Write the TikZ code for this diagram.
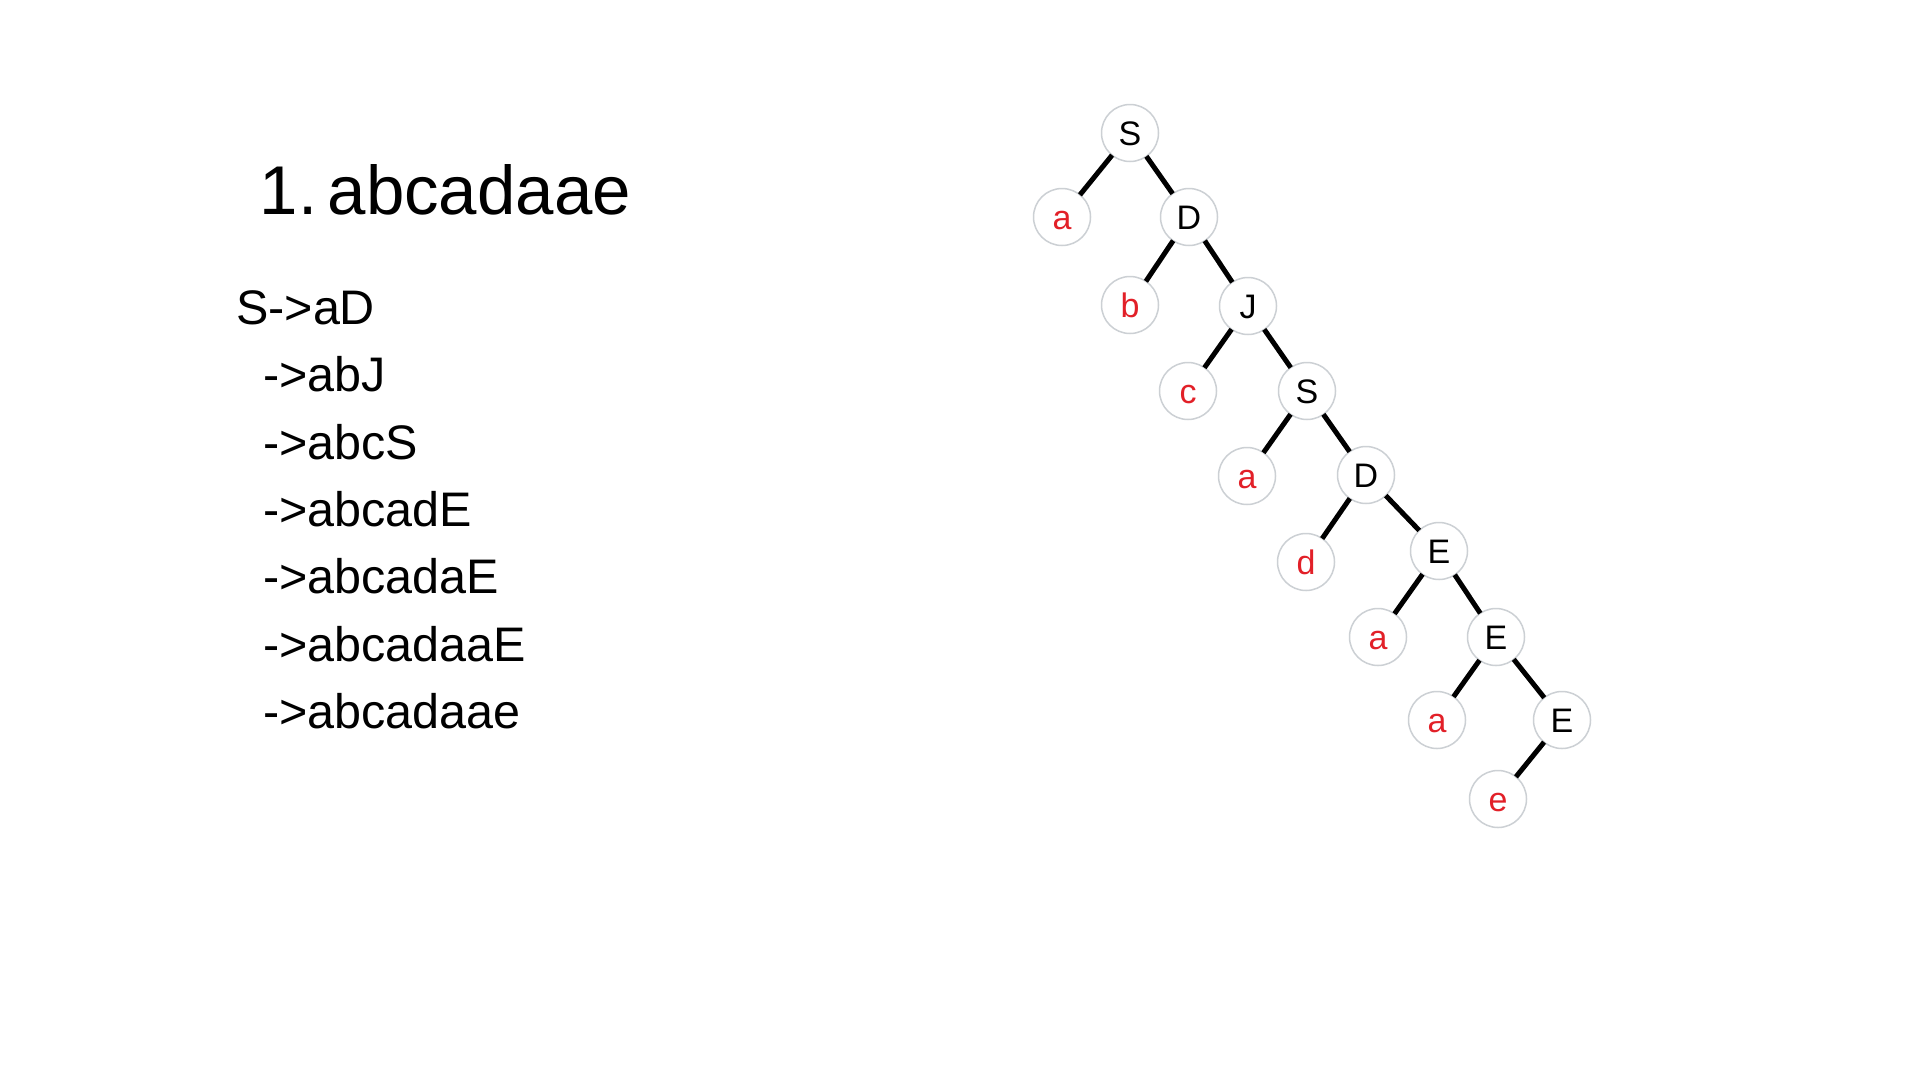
\documentclass[tikz,border=0pt]{standalone}
\usepackage{fontspec}
\setmainfont{Liberation Sans}
\definecolor{termred}{RGB}{226,32,40}
\definecolor{ringgray}{RGB}{204,208,212}
\begin{document}
\begin{tikzpicture}[x=1pt,y=-1pt,
  tnode/.style={circle,draw=ringgray,line width=1.5pt,fill=white,minimum size=57pt,inner sep=0pt,outer sep=0pt,text height=24.5pt,text depth=0pt,font=\fontsize{34}{40}\selectfont},
  nt/.style={tnode,text=black},
  term/.style={tnode,text=termred},
  edge/.style={line width=5pt,black},
  listline/.style={anchor=base west,inner sep=0pt,font=\fontsize{48.5}{58}\selectfont}]
\useasboundingbox[fill=white] (0,0) rectangle (1920,1080);
% title
\node[anchor=base west,inner sep=0pt,font=\fontsize{69}{82}\selectfont] (title) at (259.5,214) {1.\hspace{10.5pt}abcadaae};
% derivation
\node[listline] (l0) at (236,324) {S->aD};
\node[listline] (l1) at (263,391) {->abJ};
\node[listline] (l2) at (263,459) {->abcS};
\node[listline] (l3) at (263,526) {->abcadE};
\node[listline] (l4) at (263,593) {->abcadaE};
\node[listline] (l5) at (263,661) {->abcadaaE};
\node[listline] (l6) at (263,728) {->abcadaae};
% tree
\node[nt] (S1) at (1130,133) {S};
\node[term] (a1) at (1062,217) {a};
\node[nt] (D1) at (1189,217) {D};
\node[term] (b) at (1130,305) {b};
\node[nt] (J) at (1248,306) {J};
\node[term] (c) at (1188,391) {c};
\node[nt] (S2) at (1307,391) {S};
\node[term] (a2) at (1247,476) {a};
\node[nt] (D2) at (1366,475) {D};
\node[term] (d) at (1306,562) {d};
\node[nt] (E1) at (1439,551) {E};
\node[term] (a3) at (1378,637) {a};
\node[nt] (E2) at (1496,637) {E};
\node[term] (a4) at (1437,720) {a};
\node[nt] (E3) at (1562,720) {E};
\node[term] (e) at (1498,799) {e};
\draw[edge] (S1) -- (a1);
\draw[edge] (S1) -- (D1);
\draw[edge] (D1) -- (b);
\draw[edge] (D1) -- (J);
\draw[edge] (J) -- (c);
\draw[edge] (J) -- (S2);
\draw[edge] (S2) -- (a2);
\draw[edge] (S2) -- (D2);
\draw[edge] (D2) -- (d);
\draw[edge] (D2) -- (E1);
\draw[edge] (E1) -- (a3);
\draw[edge] (E1) -- (E2);
\draw[edge] (E2) -- (a4);
\draw[edge] (E2) -- (E3);
\draw[edge] (E3) -- (e);
\end{tikzpicture}
\end{document}
